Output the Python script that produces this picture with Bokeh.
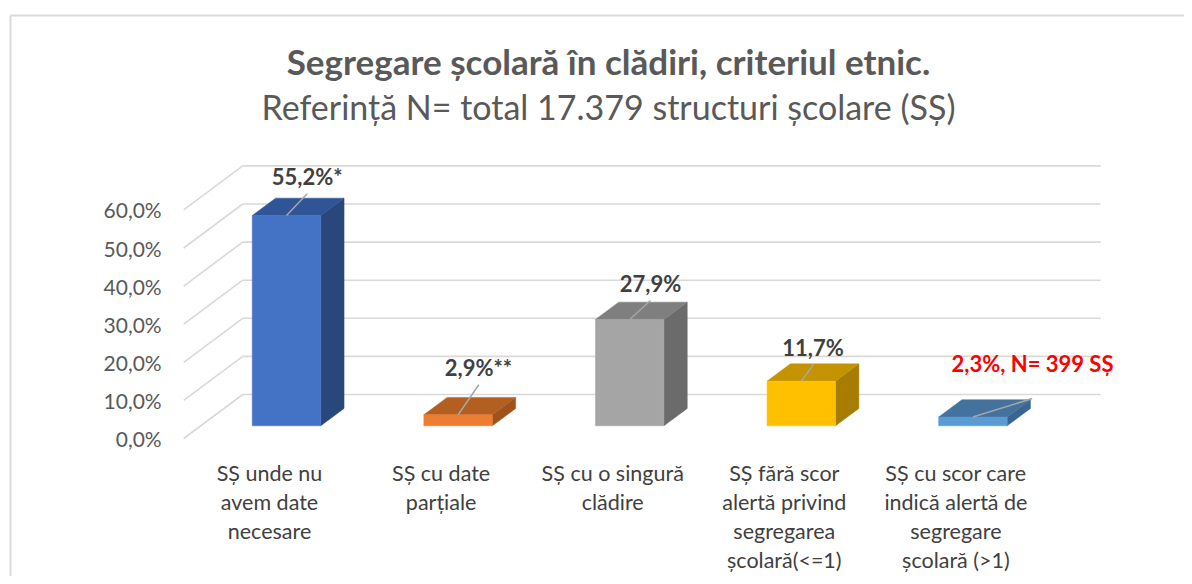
from bokeh.plotting import figure
from bokeh.models import Range1d
from bokeh.core.properties import value
from bokeh.embed import file_html
from bokeh.resources import INLINE

# ---------------- data ----------------
categories = [
    "SȘ unde nu\navem date\nnecesare",
    "SȘ cu date\nparțiale",
    "SȘ cu o singură\nclădire",
    "SȘ fără scor\nalertă privind\nsegregarea\nșcolară(<=1)",
    "SȘ cu scor care\nindică alertă de\nsegregare\nșcolară (>1)",
]
values = [55.2, 2.9, 27.9, 11.7, 2.3]
label_suffix = ["*", "**", "", "", ", N= 399 SȘ"]
tick_values = [0, 10, 20, 30, 40, 50, 60]
tick_labels = ["0,0%", "10,0%", "20,0%", "30,0%", "40,0%", "50,0%", "60,0%"]
title_text = "Segregare școlară în clădiri, criteriul etnic."
subtitle_text = "Referință N= total 17.379 structuri școlare (SȘ)"

# ---------------- styles ----------------
front_colors = ["#4472C4", "#ED7D31", "#A5A5A5", "#FFC000", "#5B9BD5"]
top_colors = ["#2F5597", "#B45F22", "#7F7F7F", "#C49300", "#44729E"]
side_colors = ["#2A477C", "#A0521C", "#6B6B6B", "#A67D00", "#3B6590"]
label_colors = ["#404040", "#404040", "#404040", "#404040", "#FF0000"]
label_dx = [20.7, 20.4, 20.8, 11.7, 59.6]      # px offsets of labels
label_dy = [-39, -47.6, -36, -34, -53.5]
line_dx = [20.7, 20.7, 20.8, 12.2, 59.3]       # px offsets of leader line ends
line_dy = [-21.7, -30, -19, -16.7, -18.5]
FONT = "Lato"

W, H = 1184, 576
PX_X = 171.6      # px per category
PX_Y = 3.81       # px per percent
X0_SCREEN = 269.0 # screen x of category 0 (front plane)
Y0_SCREEN = 438.0 # screen y of 0% (front plane)

def sx(px):
    return (px - X0_SCREEN) / PX_X

def sy(py):
    return (Y0_SCREEN - py) / PX_Y

DX = 59 / PX_X     # full floor depth in x units
DY = 44 / PX_Y     # full floor depth in y units
F1 = 0.288         # depth of bar front face
DB = 0.395         # bar depth
BW = 68.5 / PX_X   # bar width

p = figure(width=W, height=H, x_range=Range1d(sx(0), sx(W)),
           y_range=Range1d(sy(H), sy(0)), min_border=0,
           toolbar_location=None, output_backend="svg",
           x_axis_type=None, y_axis_type=None)
p.grid.visible = False
p.outline_line_color = None
p.background_fill_color = "white"

# chart border (top and left visible)
p.segment(x0=[sx(10), sx(10)], y0=[sy(15), sy(15)], x1=[sx(1300), sx(10)],
          y1=[sy(15), sy(700)], line_color="#D9D9D9", line_width=2)

# gridlines: side diagonals and back wall
n = len(values)
gx0, gy0, gx1, gy1 = [], [], [], []
bx0, by0, bx1, by1 = [], [], [], []
for t in tick_values:
    gx0.append(-0.5); gy0.append(t); gx1.append(-0.5 + DX); gy1.append(t + DY)
    bx0.append(-0.5 + DX); by0.append(t + DY); bx1.append(n - 0.5 + DX); by1.append(t + DY)
p.segment(gx0, gy0, gx1, gy1, line_color="#D9D9D9", line_width=1.6)
p.segment(bx0, by0, bx1, by1, line_color="#D9D9D9", line_width=1.6)

# tick labels
p.text(x=[-0.5] * len(tick_values), y=tick_values, text=tick_labels,
       text_font=value(FONT), text_font_size="21px", text_color="#595959",
       text_align="right", text_baseline="middle", x_offset=-22)

# bars (3D)
fx, fy, tx, ty, sxs, sys_ = [], [], [], [], [], []
cx, cy = [], []
for i, v in enumerate(values):
    xa = i - BW / 2 + F1 * DX
    xb = i + BW / 2 + F1 * DX
    y0 = F1 * DY
    y1 = v + F1 * DY
    ddx, ddy = DB * DX, DB * DY
    fx.append([xa, xb, xb, xa]); fy.append([y0, y0, y1, y1])
    tx.append([xa, xb, xb + ddx, xa + ddx]); ty.append([y1, y1, y1 + ddy, y1 + ddy])
    sxs.append([xb, xb + ddx, xb + ddx, xb]); sys_.append([y0, y0 + ddy, y1 + ddy, y1])
    cx.append(i + F1 * DX); cy.append(y1)

p.patches(sxs, sys_, fill_color=side_colors, line_color=side_colors, line_width=0.5)
p.patches(tx, ty, fill_color=top_colors, line_color=top_colors, line_width=0.5)
p.patches(fx, fy, fill_color=front_colors, line_color=front_colors, line_width=0.5)

# leader lines
lx1 = [c + d / PX_X for c, d in zip(cx, line_dx)]
ly1 = [c - d / PX_Y for c, d in zip(cy, line_dy)]
p.segment(cx, cy, lx1, ly1, line_color="#A6A6A6", line_width=1.5)

# data labels
texts = [f"{v:.1f}".replace(".", ",") + "%" + s for v, s in zip(values, label_suffix)]
for i in range(n):
    p.text(x=[cx[i]], y=[cy[i]], text=[texts[i]], text_font=value(FONT),
           text_font_style="bold", text_font_size="22px", text_color=label_colors[i],
           text_align="center", text_baseline="middle",
           x_offset=label_dx[i], y_offset=label_dy[i])

# category labels
p.text(x=list(range(n)), y=[sy(459)] * n, text=categories, text_font=value(FONT),
       text_font_size="21.5px", text_color="#404040", text_align="center",
       text_baseline="top", text_line_height=1.12)

# titles
p.text(x=[sx(608)], y=[sy(60)], text=[title_text], text_font=value(FONT),
       text_font_style="bold", text_font_size="35px", text_color="#595959",
       text_align="center", text_baseline="middle")
p.text(x=[sx(608)], y=[sy(106)], text=[subtitle_text], text_font=value(FONT),
       text_font_size="34px", text_color="#595959",
       text_align="center", text_baseline="middle")

open("out.html", "w").write(file_html(p, INLINE))
